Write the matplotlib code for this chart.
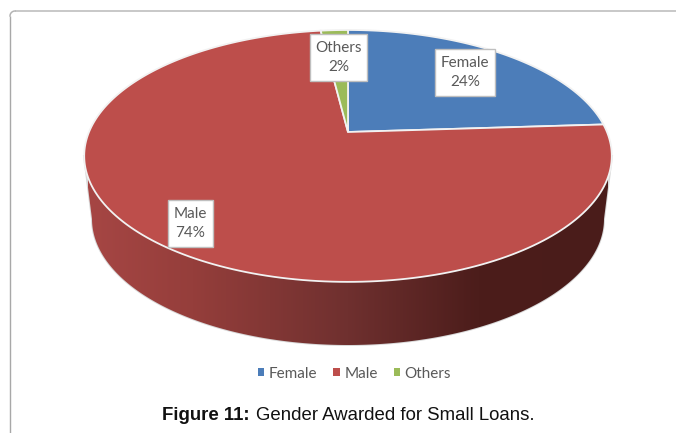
import numpy as np
import matplotlib
matplotlib.use('Agg')
import matplotlib.pyplot as plt
from matplotlib.patches import Rectangle, Polygon
from matplotlib.colors import LinearSegmentedColormap

categories = ['Female', 'Male', 'Others']
values = [24, 74, 2]
colors = ['#4c7db9', '#bd4e4b', '#9bbb59']
caption_bold = 'Figure 11:'
caption_rest = 'Gender Awarded for Small Loans.'

# where the labels sit, pixels
label_boxes = {'Female': (435, 49, 60, 47), 'Male': (168, 200, 45, 47), 'Others': (310, 34, 57, 47)}

fig = plt.figure(figsize=(6.76, 4.33), dpi=100)
ax = fig.add_axes([0, 0, 1, 1])
ax.set_xlim(0, 676)
ax.set_ylim(433, 0)
ax.axis('off')

# tilted disc: circle seen in perspective, so slices keep their share of the angle
cx, cy = 348, 132
k = 0.19
A, B = 259, 121.4

def project(theta):
    u, v = np.sin(theta), np.cos(theta)
    w = 1 + k * v
    return cx + A * u / w, cy - B * v / w

# chart frame
ax.plot([10, 10], [433, 16], color='#a8a8a8', lw=1, solid_capstyle='butt')
ax.plot([15, 676], [11, 11], color='#c8c8c8', lw=1.4, solid_capstyle='butt')
t = np.linspace(np.pi, 1.5 * np.pi, 12)
ax.plot(15 + 5 * np.cos(t), 16 + 5 * np.sin(t), color='#b4b4b4', lw=1.1)

# side of the disc with a gradient
t = np.linspace(np.pi, 0, 200)
bx = 348 + 256 * np.cos(t)
by = 219 + 126 * np.sin(t)
side = Polygon(np.column_stack([np.r_[84, bx, 612], np.r_[156, by, 156]]),
               closed=True, fc='none', ec='#d8d8d8', lw=1.4, zorder=2)
ax.add_patch(side)
cmap = LinearSegmentedColormap.from_list('side', [(0, '#a64644'), (0.2, '#953e3b'), (0.5, '#6f302f'),
                                                  (0.75, '#4c1d1b'), (1, '#4a1c1a')])
grad = ax.imshow(np.linspace(0, 1, 256)[None, :], extent=[88, 608, 345, 150], cmap=cmap,
                 aspect='auto', zorder=2.1)
grad.set_clip_path(Polygon(side.get_xy(), transform=ax.transData))
ax.set_xlim(0, 676)
ax.set_ylim(433, 0)

# top face
ends = np.cumsum(values) / np.sum(values) * 2 * np.pi
starts = np.r_[0, ends[:-1]]
for a0, a1, c in zip(starts, ends, colors):
    x, y = project(np.linspace(a0, a1, 200))
    ax.fill(np.r_[cx, x], np.r_[cy, y], fc=c, ec='#f2f2f2', lw=1.3, joinstyle='miter', zorder=3)

# data labels
for name, val in zip(categories, values):
    lx, ly, lw, lh = label_boxes[name]
    ax.add_patch(Rectangle((lx, ly), lw, lh, fc='white', ec='#bfbfbf', lw=1, zorder=4))
    ax.text(lx + lw / 2, ly + lh / 2, f'{name}\n{val}%', ha='center', va='center', color='#595959',
            family='Lato', fontsize=11, linespacing=1.45, zorder=5)

# legend
handles = [Rectangle((0, 0), 1, 1, fc=c, ec='none') for c in colors]
ax.legend(handles, categories, ncol=3, loc='center', bbox_to_anchor=(354.5 / 676, 1 - 373.5 / 433),
          frameon=False, prop={'family': 'Lato', 'size': 11}, labelcolor='#595959',
          handlelength=0.42, handleheight=0.42, handletextpad=0.3, columnspacing=1.05)

# caption
ax.text(162, 416, caption_bold, family='Liberation Sans', weight='bold', fontsize=13.4, va='center', color='#111111')
ax.text(256, 416, caption_rest, family='Liberation Sans', fontsize=13.4, va='center', color='#111111')

fig.savefig('out.png', dpi=100)
